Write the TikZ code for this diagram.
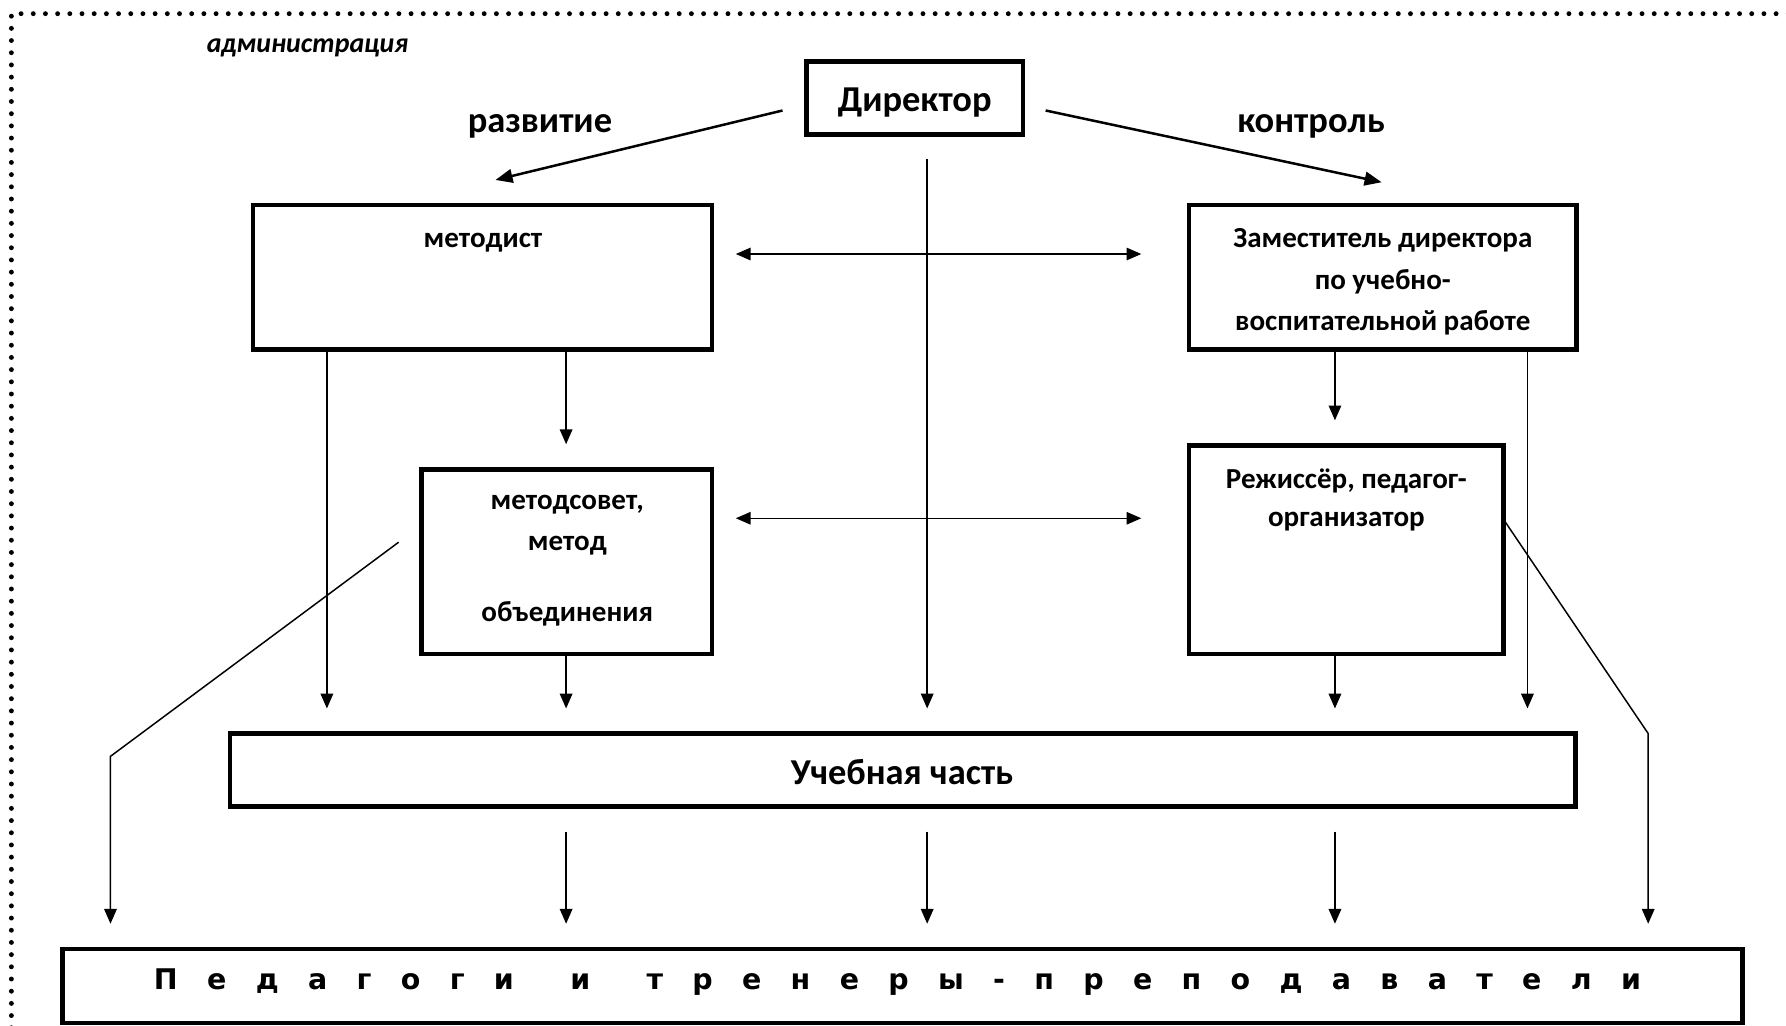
\documentclass[tikz,border=0pt]{standalone}
\usepackage{fontspec}
\setmainfont{Carlito}
\newfontfamily\widefont[LetterSpace=103]{DejaVu Sans}
\usetikzlibrary{arrows.meta}
\begin{document}
\begin{tikzpicture}[x=1pt,y=-1pt,
  box/.style={draw,line width=4pt,inner sep=0pt,minimum width=#1},
  txt/.style={font=\bfseries\fontsize{25.5}{30}\selectfont,inner sep=0pt,anchor=center},
  big/.style={font=\bfseries\fontsize{32}{36}\selectfont,inner sep=0pt},
  arr/.style={line width=1.3pt,-{Triangle[length=13pt,width=11pt]}},
  darr/.style={line width=1.3pt,{Triangle[length=13pt,width=11pt]}-{Triangle[length=13pt,width=11pt]}},
  thick arr/.style={line width=2.2pt,-{Triangle[length=15pt,width=12pt]}}]
\useasboundingbox (0,0) rectangle (1568,900);
\fill[white] (0,0) rectangle (1568,900);
% dotted frame
\draw[line width=4.3pt,line cap=round,dash pattern=on 0pt off 10.7pt] (1570,12) -- (10,12) -- (10,905);
\node[font=\bfseries\itshape\fontsize{24.5}{28}\selectfont,inner sep=0pt] (adm) at (270,42) {администрация};
% boxes
\node[box=190pt,minimum height=64pt] (dir) at (803,86) {};
\node[big] (dirt) at (803,90) {Директор};
\node[big] (razv) at (474,111) {развитие};
\node[big] (kontr) at (1151,111) {контроль};
\node[box=403pt,minimum height=127pt] (met) at (423.5,243.5) {};
\node[txt] (mett) at (424,213) {методист};
\node[box=340pt,minimum height=127pt] (zam) at (1214,243.5) {};
\node[txt] (zam1) at (1214,211) {Заместитель директора};
\node[txt] (zam2) at (1214,247) {по учебно-};
\node[txt] (zam3) at (1214,283) {воспитательной работе};
\node[box=255pt,minimum height=162pt] (ms) at (497.5,493) {};
\node[txt] (ms1) at (498,443) {методсовет,};
\node[txt] (ms2) at (498,479) {метод};
\node[txt] (ms3) at (498,539) {объединения};
\node[box=276pt,minimum height=183pt] (rej) at (1182,482.5) {};
\node[txt] (rej1) at (1182,422) {Режиссёр, педагог-};
\node[txt] (rej2) at (1182,458) {организатор};
\node[box=1181pt,minimum height=64pt] (uch) at (792.5,676) {};
\node[font=\bfseries\fontsize{32}{36}\selectfont,inner sep=0pt] (ucht) at (792,678) {Учебная часть};
\node[box=1475pt,minimum height=65pt] (ped) at (792.5,865.5) {};
\node[font=\widefont\bfseries\fontsize{25}{30}\selectfont,inner sep=0pt,anchor=west] (pedt) at (135,862) {Педагоги\ \hspace{15pt}и\ \hspace{15pt}тренеры-преподаватели};
% coordinates
\coordinate (d1s) at (687,97);  \coordinate (d1e) at (435,158);
\coordinate (d2s) at (918,97);  \coordinate (d2e) at (1213,160);
\coordinate (dvs) at (814,140); \coordinate (dve) at (814,622);
\coordinate (h1l) at (646,223); \coordinate (h1r) at (1002,223);
\coordinate (h2l) at (646,455); \coordinate (h2r) at (1002,455);
\coordinate (a287) at (287,622);
\coordinate (a497a) at (497,390);
\coordinate (a497b) at (497,622);
\coordinate (a1172a) at (1172,369);
\coordinate (a1172b) at (1172,622);
\coordinate (a1341) at (1341,622);
\coordinate (ls) at (350,476); \coordinate (lk) at (97,664); \coordinate (le) at (97,811);
\coordinate (rs) at (1320,456); \coordinate (rk) at (1447,644); \coordinate (re) at (1447,811);
\coordinate (b1s) at (497,730); \coordinate (b1e) at (497,811);
\coordinate (b2s) at (814,730); \coordinate (b2e) at (814,811);
\coordinate (b3s) at (1172,730); \coordinate (b3e) at (1172,811);
% connectors
\draw[thick arr] (d1s) -- (d1e);
\draw[thick arr] (d2s) -- (d2e);
\draw[arr] (dvs) -- (dve);
\draw[darr] (h1l) -- (h1r);
\draw[darr] (h2l) -- (h2r);
\draw[arr] (met.south -| a287) -- (a287);
\draw[arr] (met.south -| a497a) -- (a497a);
\draw[arr] (ms.south -| a497b) -- (a497b);
\draw[arr] (zam.south -| a1172a) -- (a1172a);
\draw[arr] (rej.south -| a1172b) -- (a1172b);
\draw[arr] (zam.south -| a1341) -- (a1341);
\draw[arr] (ls) -- (lk) -- (le);
\draw[arr] (rs) -- (rk) -- (re);
\draw[arr] (b1s) -- (b1e);
\draw[arr] (b2s) -- (b2e);
\draw[arr] (b3s) -- (b3e);
\end{tikzpicture}
\end{document}
